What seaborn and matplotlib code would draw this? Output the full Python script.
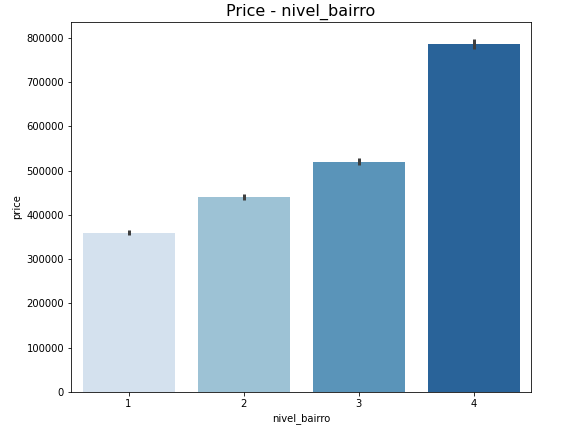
import matplotlib
matplotlib.use("Agg")
import matplotlib.pyplot as plt
import seaborn as sns
import pandas as pd

categories = ["1", "2", "3", "4"]
prices = [360000, 441000, 520000, 786000]
errors = [6000, 7000, 8000, 12000]

df = pd.DataFrame({"nivel_bairro": categories, "price": prices})

fig = plt.figure(figsize=(563/72, 434/72), dpi=72)
ax = fig.add_axes([71/563, 1-392/434, 460/563, 370/434])
sns.barplot(data=df, x="nivel_bairro", y="price", hue="nivel_bairro",
            palette="Blues", legend=False, ax=ax, errorbar=None)
ax.errorbar(range(len(categories)), prices, yerr=errors, fmt="none",
            ecolor="#3f3f3f", elinewidth=3)
ax.set_title("Price - nivel_bairro", fontsize=16)
ax.set_xlabel("nivel_bairro")
ax.set_ylabel("price")
ax.ticklabel_format(axis="y", style="plain")
ax.set_ylim(0, 836000)
ax.set_xlim(-0.5, 3.5)
fig.savefig("out.png", dpi=72)
